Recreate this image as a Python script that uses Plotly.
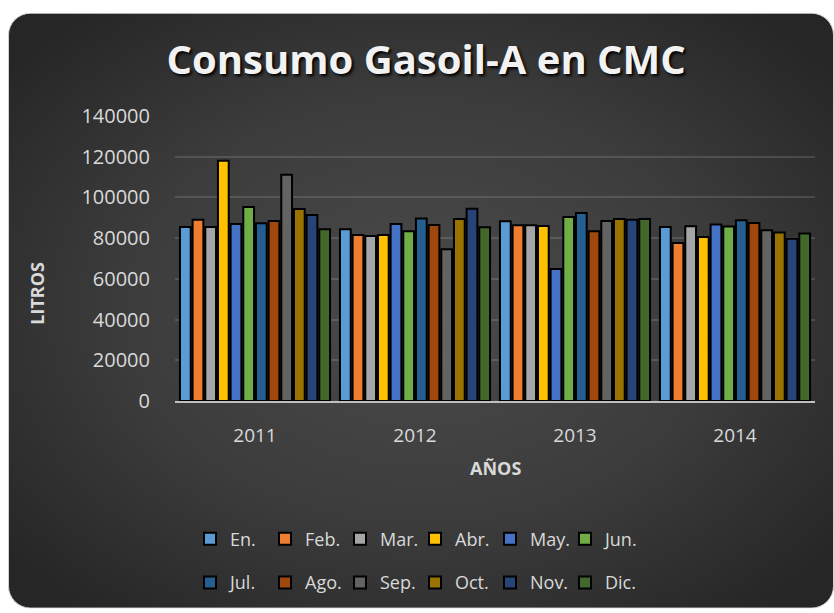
import base64
import plotly.graph_objects as go

years = ["2011", "2012", "2013", "2014"]
months = ["En.", "Feb.", "Mar.", "Abr.", "May.", "Jun.", "Jul.", "Ago.", "Sep.", "Oct.", "Nov.", "Dic."]
# litros por mes (filas = meses, columnas = años)
en = [85500, 84400, 88300, 85500]
feb = [89000, 81500, 86300, 77600]
mar = [85500, 81000, 86300, 85900]
abr = [118000, 81500, 86000, 80600]
may = [87000, 87000, 64900, 86700]
jun = [95300, 83400, 90400, 85700]
jul = [87300, 89600, 92300, 88800]
ago = [88400, 86500, 83400, 87500]
sep = [111200, 74500, 88400, 83900]
octu = [94300, 89400, 89400, 82800]
nov = [91400, 94500, 89000, 79700]
dic = [84400, 85400, 89400, 82300]
series = [en, feb, mar, abr, may, jun, jul, ago, sep, octu, nov, dic]
colors = ["#5B9BD5", "#ED7D31", "#A5A5A5", "#FFC000", "#4472C4", "#70AD47",
          "#255E91", "#9E480E", "#636363", "#997300", "#264478", "#43682B"]

W, H = 834, 613
L, R, T, B = 175, 19, 116, 210
pw, ph = W - L - R, H - T - B

def px_x(p):
    return (p - L) / pw

def px_y(p):
    return (H - B - p) / ph

FONT = "Open Sans"
TXT = "#d9d9d9"

fig = go.Figure()
for i, (m, v, c) in enumerate(zip(months, series, colors)):
    fig.add_trace(go.Bar(
        name=m, x=years, y=v,
        marker=dict(color=c, line=dict(color="black", width=2)),
        legend="legend" if i < 6 else "legend2",
    ))

# background card with radial gradient
cw, ch = 834 - 8, 612 - 12
svg = f'''<svg xmlns="http://www.w3.org/2000/svg" width="{cw}" height="{ch}" viewBox="0 0 {cw} {ch}" preserveAspectRatio="none">
<defs><radialGradient id="g" cx="0.5" cy="0.5" r="0.65">
<stop offset="0" stop-color="#4b4b4b"/><stop offset="0.55" stop-color="#3c3c3c"/><stop offset="1" stop-color="#262626"/>
</radialGradient></defs>
<rect x="0.5" y="0.5" width="{cw-1}" height="{ch-1}" rx="22" ry="22" fill="url(#g)" stroke="#d0d0d0" stroke-width="1"/>
</svg>'''
src = "data:image/svg+xml;base64," + base64.b64encode(svg.encode()).decode()
fig.add_layout_image(dict(source=src, xref="paper", yref="paper",
                          x=px_x(8), y=px_y(12), sizex=cw / pw, sizey=ch / ph,
                          xanchor="left", yanchor="top", sizing="stretch", layer="below"))

leg_common = dict(orientation="h", xanchor="left", yanchor="middle",
                  font=dict(family=FONT, size=18, color=TXT), bgcolor="rgba(0,0,0,0)",
                  entrywidth=30, entrywidthmode="pixels", itemwidth=30, traceorder="normal")

fig.update_layout(
    width=W, height=H,
    margin=dict(l=L, r=R, t=T, b=B),
    paper_bgcolor="white", plot_bgcolor="rgba(0,0,0,0)",
    barmode="group", bargap=0.05, bargroupgap=0.15,
    title=dict(text="<b>Consumo Gasoil-A en CMC</b>", x=0.511, xanchor="center",
               y=px_y(60) * ph / H + B / H, yanchor="middle", yref="container",
               font=dict(family=FONT, size=40, color="#f2f2f2", shadow="2px 2px 3px #000")),
    showlegend=True,
    legend=dict(x=px_x(190), y=px_y(542), **leg_common),
    legend2=dict(x=px_x(190), y=px_y(586), **leg_common),
    xaxis=dict(showgrid=False, showline=True, linecolor="#bfbfbf", linewidth=2,
               ticks="", tickfont=dict(family=FONT, size=19, color=TXT),
               ticklabelstandoff=16, fixedrange=True),
    yaxis=dict(range=[0, 140000], dtick=20000, showgrid=True,
               gridcolor="rgba(255,255,255,0.13)", gridwidth=2, zeroline=False,
               ticks="", tickfont=dict(family=FONT, size=20, color=TXT),
               ticklabelstandoff=24, tickformat="d", showline=False),
    annotations=[
        dict(text="<b>AÑOS</b>", xref="paper", yref="paper", x=px_x(495), y=px_y(470),
             showarrow=False, font=dict(family=FONT, size=18, color=TXT),
             xanchor="center", yanchor="middle"),
        dict(text="<b>LITROS</b>", xref="paper", yref="paper", x=px_x(37), y=px_y(295),
             showarrow=False, textangle=-90, font=dict(family=FONT, size=18, color=TXT),
             xanchor="center", yanchor="middle"),
    ],
)

fig.write_html("out.html", config={"displayModeBar": False},
               post_script=("document.documentElement.style.overflow='hidden';"
                            "document.body.style.margin='0';"
                            "document.body.style.overflow='hidden';"))
